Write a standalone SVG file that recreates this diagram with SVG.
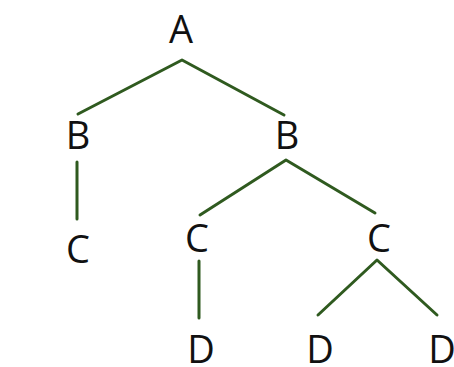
<svg xmlns="http://www.w3.org/2000/svg" width="454" height="367" viewBox="0 0 454 367">
  <style>
    .lbl { font-family: "Open Sans", "DejaVu Sans", sans-serif; font-size: 38px; fill: #111; text-anchor: middle; }
    .edge { stroke: #2f5a1f; stroke-width: 3; fill: none; stroke-linecap: round; stroke-linejoin: round; }
  </style>
  <rect width="454" height="367" fill="#fff"/>
  <g id="connectors">
    <polyline class="edge" points="78,114 182,60 284,115"/>
    <line class="edge" x1="77" y1="162" x2="77" y2="219"/>
    <polyline class="edge" points="200,215 286,160 375,213"/>
    <line class="edge" x1="199" y1="261" x2="199" y2="318"/>
    <polyline class="edge" points="318,315 377,260 437,315"/>
  </g>
  <g id="n-a"><text class="lbl" x="181" y="43">A</text></g>
  <g id="n-b1"><text class="lbl" x="78" y="149">B</text></g>
  <g id="n-b2"><text class="lbl" x="287" y="149">B</text></g>
  <g id="n-c1"><text class="lbl" x="78" y="263">C</text></g>
  <g id="n-c2"><text class="lbl" x="197" y="252">C</text></g>
  <g id="n-c3"><text class="lbl" x="379" y="252">C</text></g>
  <g id="n-d1"><text class="lbl" x="201" y="363">D</text></g>
  <g id="n-d2"><text class="lbl" x="320" y="363">D</text></g>
  <g id="n-d3"><text class="lbl" x="442" y="363">D</text></g>
</svg>
